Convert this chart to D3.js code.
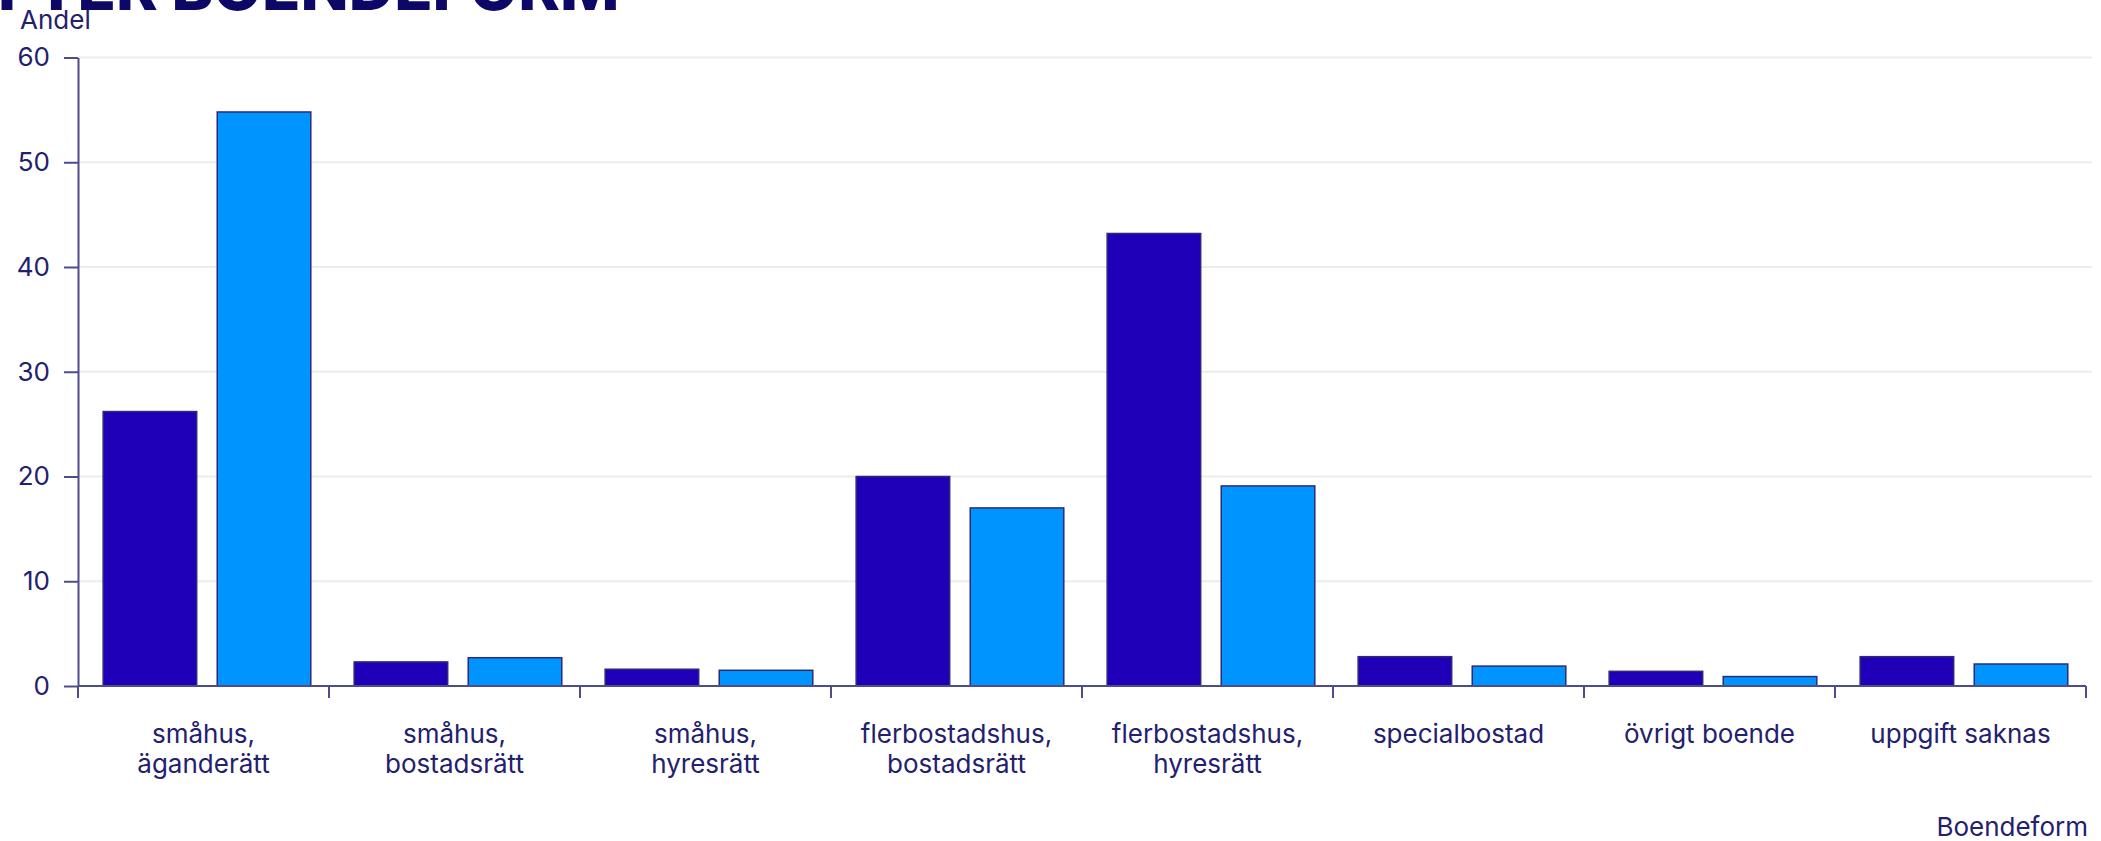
<!DOCTYPE html>
<html><head><meta charset="utf-8">
<script src="https://cdn.jsdelivr.net/npm/d3@7"></script>
<style>html,body{margin:0;padding:0;background:#fff;overflow:hidden}</style>
</head><body>
<svg id="c" width="2101" height="841"></svg>
<script>
const categories = ["småhus, äganderätt", "småhus, bostadsrätt", "småhus, hyresrätt", "flerbostadshus, bostadsrätt", "flerbostadshus, hyresrätt", "specialbostad", "övrigt boende", "uppgift saknas"];
const seriesNames = ["serie 1", "serie 2"];
const seriesA = [26.2, 2.3, 1.6, 20.0, 43.2, 2.8, 1.4, 2.8];
const seriesB = [54.8, 2.7, 1.5, 17.0, 19.1, 1.9, 0.9, 2.1];
const yTicks = [0, 10, 20, 30, 40, 50, 60];
const titleText = "EFTER BOENDEFORM";
const yTitle = "Andel";
const xTitle = "Boendeform";

const mLeft = 78, mRight = 2086, mTop = 57.5, mBottom = 686;
const textCol = "#23206e", axisCol = "#4e4d8c";
const colors = ["#1f00b8", "#0094ff"];
const font = "Inter, 'Noto Sans', sans-serif";

const svg = d3.select("#c");
const rows = categories.map((c, i) => ({cat: c, vals: [seriesA[i], seriesB[i]]}));

const x0 = d3.scaleBand().domain(categories).range([mLeft, mRight]).padding(0);
const x1 = d3.scaleBand().domain([0, 1]).range([0, x0.bandwidth()]).paddingInner(0.18).paddingOuter(0.19).align(0.58);
const y = d3.scaleLinear().domain([0, 60]).range([mBottom, mTop]);

// gridlines
svg.append("g").selectAll("line").data(yTicks.filter(d => d > 0)).join("line")
  .attr("x1", mLeft).attr("x2", 2092)
  .attr("y1", d => y(d)).attr("y2", d => y(d))
  .attr("stroke", "#ececec").attr("stroke-width", 2);

// bars
const g = svg.append("g").selectAll("g").data(rows).join("g")
  .attr("transform", d => `translate(${x0(d.cat)},0)`);
g.selectAll("rect").data(d => d.vals.map((v, k) => ({v, k}))).join("rect")
  .attr("x", d => x1(d.k)).attr("width", x1.bandwidth())
  .attr("y", d => y(d.v)).attr("height", d => y(0) - y(d.v))
  .attr("fill", d => colors[d.k]).attr("stroke", "#2e2a78").attr("stroke-width", 1.5);

// y axis
const ya = svg.append("g").attr("transform", `translate(${mLeft},0)`)
  .call(d3.axisLeft(y).tickValues(yTicks).tickSize(14).tickSizeOuter(0).tickPadding(14));
ya.select(".domain").attr("stroke", axisCol).attr("stroke-width", 2);
ya.selectAll(".tick line").attr("stroke", axisCol).attr("stroke-width", 2);
ya.selectAll(".tick text").attr("fill", textCol).style("font-family", font).style("font-size", "26px");

// x axis baseline & ticks
svg.append("line").attr("x1", mLeft).attr("x2", mRight).attr("y1", y(0)).attr("y2", y(0))
  .attr("stroke", axisCol).attr("stroke-width", 2);
const bounds = categories.map(c => x0(c)).concat([x0.range()[1]]);
svg.append("g").selectAll("line").data(bounds).join("line")
  .attr("x1", d => d).attr("x2", d => d).attr("y1", y(0)).attr("y2", y(0) + 12)
  .attr("stroke", axisCol).attr("stroke-width", 2);

// x labels
const lab = svg.append("g").selectAll("text").data(categories).join("text")
  .attr("text-anchor", "middle").attr("fill", textCol)
  .style("font-family", font).style("font-size", "26px");
lab.each(function(c) {
  const parts = c.includes(", ") ? [c.split(", ")[0] + ",", c.split(", ")[1]] : [c];
  const cx = x0(c) + x0.bandwidth() / 2;
  d3.select(this).selectAll("tspan").data(parts).join("tspan")
    .attr("x", cx).attr("y", (d, i) => 743 + i * 30).text(d => d);
});

// axis titles
svg.append("text").attr("x", 20).attr("y", 29).attr("fill", textCol)
  .style("font-family", font).style("font-size", "26px").text(yTitle);
svg.append("text").attr("x", 2088).attr("y", 836).attr("text-anchor", "end").attr("fill", textCol)
  .style("font-family", font).style("font-size", "26px").text(xTitle);

// title (cut off at top, as in reference)
const t = svg.append("text").attr("y", 10).attr("fill", "#0d0866")
  .style("font-family", font).style("font-size", "63px").style("font-weight", 800).text(titleText);
const shift = t.node().getSubStringLength(0, 1);
t.attr("x", -shift - 2);
</script>
</body></html>
